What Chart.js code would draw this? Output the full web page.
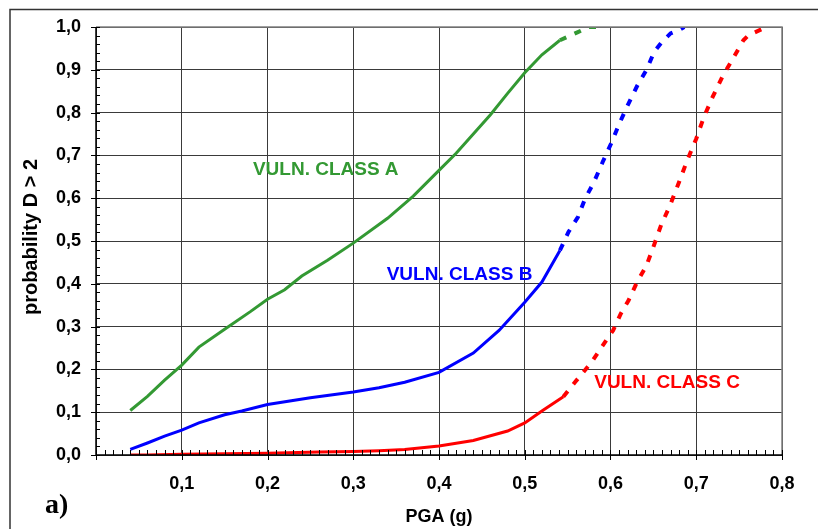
<!DOCTYPE html>
<html>
<head>
<meta charset="utf-8">
<script src="https://cdn.jsdelivr.net/npm/chart.js@4/dist/chart.umd.min.js"></script>
<style>
html,body{margin:0;padding:0;background:#fff;}
#wrap{width:818px;height:529px;}
</style>
</head>
<body>
<div id="wrap"><canvas id="c" width="818" height="529"></canvas></div>
<script>
// ---- data ----
const pgaA  = [0.04,0.06,0.08,0.10,0.12,0.15,0.18,0.20,0.22,0.24,0.27,0.30,0.34,0.37,0.40,0.42,0.44,0.46,0.48,0.50,0.52,0.541,0.562,0.575,0.588];
const probA = [0.104,0.137,0.175,0.21,0.252,0.294,0.335,0.364,0.386,0.418,0.455,0.495,0.553,0.605,0.665,0.705,0.75,0.795,0.845,0.893,0.935,0.969,0.988,1.0,1.0];
const dashFromA = 0.541;

const pgaB  = [0.04,0.06,0.08,0.10,0.12,0.15,0.17,0.20,0.25,0.30,0.33,0.36,0.40,0.44,0.47,0.50,0.52,0.541,0.551,0.562,0.570,0.581,0.591,0.601,0.610,0.620,0.631,0.642,0.651,0.660,0.670,0.681,0.686];
const probB = [0.013,0.028,0.044,0.058,0.075,0.094,0.103,0.118,0.134,0.147,0.157,0.17,0.193,0.238,0.291,0.357,0.404,0.478,0.521,0.556,0.597,0.639,0.685,0.729,0.773,0.817,0.862,0.900,0.942,0.965,0.985,0.994,1.0];
const dashFromB = 0.541;

const pgaC  = [0.04,0.06,0.10,0.15,0.20,0.26,0.30,0.33,0.36,0.40,0.44,0.48,0.50,0.52,0.545,0.559,0.578,0.595,0.603,0.612,0.621,0.631,0.642,0.650,0.659,0.670,0.680,0.689,0.700,0.709,0.719,0.731,0.741,0.755,0.761,0.780];
const probC = [0.0,0.0,0.002,0.003,0.004,0.007,0.008,0.01,0.013,0.021,0.034,0.056,0.075,0.103,0.136,0.171,0.217,0.268,0.291,0.330,0.361,0.404,0.443,0.486,0.537,0.586,0.638,0.686,0.739,0.790,0.836,0.886,0.920,0.969,0.981,0.998];
const dashFromC = 0.545;

const classLabels = ['VULN. CLASS A','VULN. CLASS B','VULN. CLASS C'];
const labelPga  = [0.183, 0.339, 0.581];   // left edge of each label (x value)
const labelProb = [0.667, 0.420, 0.168];   // vertical centre of each label (y value)

const xTickValues = [0.1,0.2,0.3,0.4,0.5,0.6,0.7,0.8];
const yTickValues = [0.0,0.1,0.2,0.3,0.4,0.5,0.6,0.7,0.8,0.9,1.0];
const xTitle = 'PGA (g)';
const yTitle = 'probability D > 2';
const panelLabel = 'a)';

// ---- build ----
const COLORS = ['#339933','#0000ff','#ff0000'];
const FONT = "'Liberation Sans', Arial, sans-serif";
function pts(xs, ys){ return xs.map((x,i)=>({x:x,y:ys[i]})); }
function mkDs(xs, ys, color, dashFrom){
  const isDash = ctx => ctx.p0.parsed.x >= dashFrom - 1e-9;
  return {
    data: pts(xs, ys), borderColor: color, backgroundColor: color,
    borderWidth: 3, pointRadius: 0, tension: 0, fill: false,
    segment: {
      borderDash: ctx => (isDash(ctx) ? [7,9] : undefined),
      borderWidth: ctx => (isDash(ctx) ? 4 : undefined)
    }
  };
}
const fmt = v => v.toFixed(1).replace('.', ',');

const decor = {
  id: 'decor',
  beforeDraw(chart){
    const c = chart.ctx;
    c.save(); c.fillStyle = '#fff'; c.fillRect(0,0,chart.width,chart.height); c.restore();
  },
  afterDatasetsDraw(chart){
    const c = chart.ctx, xs = chart.scales.x, ys = chart.scales.y, a = chart.chartArea;
    c.save();
    c.strokeStyle = '#808080'; c.lineWidth = 1.5;
    c.beginPath(); c.moveTo(a.left, a.top); c.lineTo(a.right, a.top); c.lineTo(a.right, a.bottom); c.stroke();
    c.strokeStyle = '#000'; c.lineWidth = 1.5;
    c.beginPath(); c.moveTo(a.left, a.top); c.lineTo(a.left, a.bottom); c.lineTo(a.right, a.bottom); c.stroke();
    c.lineWidth = 1;
    for (let i = 0; i <= 50; i++) {
      const v = i / 50, p = Math.round(ys.getPixelForValue(v)) + 0.5;
      c.beginPath();
      if (i % 5 === 0) { c.moveTo(a.left - 5, p); c.lineTo(a.left + 4, p); }
      else { c.moveTo(a.left, p); c.lineTo(a.left + 4, p); }
      c.stroke();
    }
    for (let i = 0; i <= 80; i++) {
      const v = i / 100, p = Math.round(xs.getPixelForValue(v)) + 0.5;
      c.beginPath();
      if (i % 10 === 0) { c.moveTo(p, a.bottom + 5); c.lineTo(p, a.bottom - 5); }
      else { c.moveTo(p, a.bottom); c.lineTo(p, a.bottom - 5); }
      c.stroke();
    }
    c.font = 'bold 19px ' + FONT; c.textBaseline = 'middle'; c.textAlign = 'left';
    classLabels.forEach((t, i) => {
      c.fillStyle = COLORS[i];
      c.fillText(t, xs.getPixelForValue(labelPga[i]), ys.getPixelForValue(labelProb[i]));
    });
    c.restore();
  },
  afterDraw(chart){
    const c = chart.ctx, a = chart.chartArea;
    c.save();
    c.strokeStyle = '#333'; c.lineWidth = 1.5;
    c.beginPath(); c.moveTo(10, chart.height); c.lineTo(10, 9.5); c.lineTo(chart.width, 9.5); c.stroke();
    c.fillStyle = '#000';
    c.font = 'bold 18px ' + FONT; c.textAlign = 'center'; c.textBaseline = 'middle';
    c.fillText(xTitle, (a.left + a.right) / 2, 517);
    c.font = 'bold 20px ' + FONT;
    c.translate(31, 237); c.rotate(-Math.PI / 2);
    c.fillText(yTitle, 0, 0);
    c.restore();
    c.save();
    c.font = "bold 28px 'Liberation Serif', 'Times New Roman', serif";
    c.fillStyle = '#000'; c.textAlign = 'left'; c.textBaseline = 'alphabetic';
    c.fillText(panelLabel, 45, 513);
    c.restore();
  }
};

new Chart(document.getElementById('c'), {
  type: 'line',
  data: { datasets: [
    mkDs(pgaA, probA, COLORS[0], dashFromA),
    mkDs(pgaB, probB, COLORS[1], dashFromB),
    mkDs(pgaC, probC, COLORS[2], dashFromC)
  ]},
  options: {
    responsive: false, animation: false, devicePixelRatio: 1,
    layout: { padding: { left: 0, right: 36, top: 27, bottom: 0 } },
    plugins: { legend: { display: false }, tooltip: { enabled: false } },
    scales: {
      x: {
        type: 'linear', min: 0, max: 0.8,
        afterFit: s => { s.height = 74; },
        afterBuildTicks: s => { s.ticks = [0].concat(xTickValues).map(v => ({ value: v })); },
        ticks: { callback: v => (v === 0 ? '' : fmt(v)), color: '#000', padding: 18, maxRotation: 0, autoSkip: false,
                 font: { family: FONT, size: 18, weight: 'bold' } },
        grid: { color: '#3a3a3a', lineWidth: 1, drawTicks: false },
        border: { display: false }
      },
      y: {
        type: 'linear', min: 0, max: 1,
        afterFit: s => { s.width = 96; },
        afterBuildTicks: s => { s.ticks = yTickValues.map(v => ({ value: v })); },
        ticks: { callback: v => fmt(v), color: '#000', padding: 15, autoSkip: false,
                 font: { family: FONT, size: 18, weight: 'bold' } },
        grid: { color: '#3a3a3a', lineWidth: 1, drawTicks: false },
        border: { display: false }
      }
    }
  },
  plugins: [decor]
});
</script>
</body>
</html>
